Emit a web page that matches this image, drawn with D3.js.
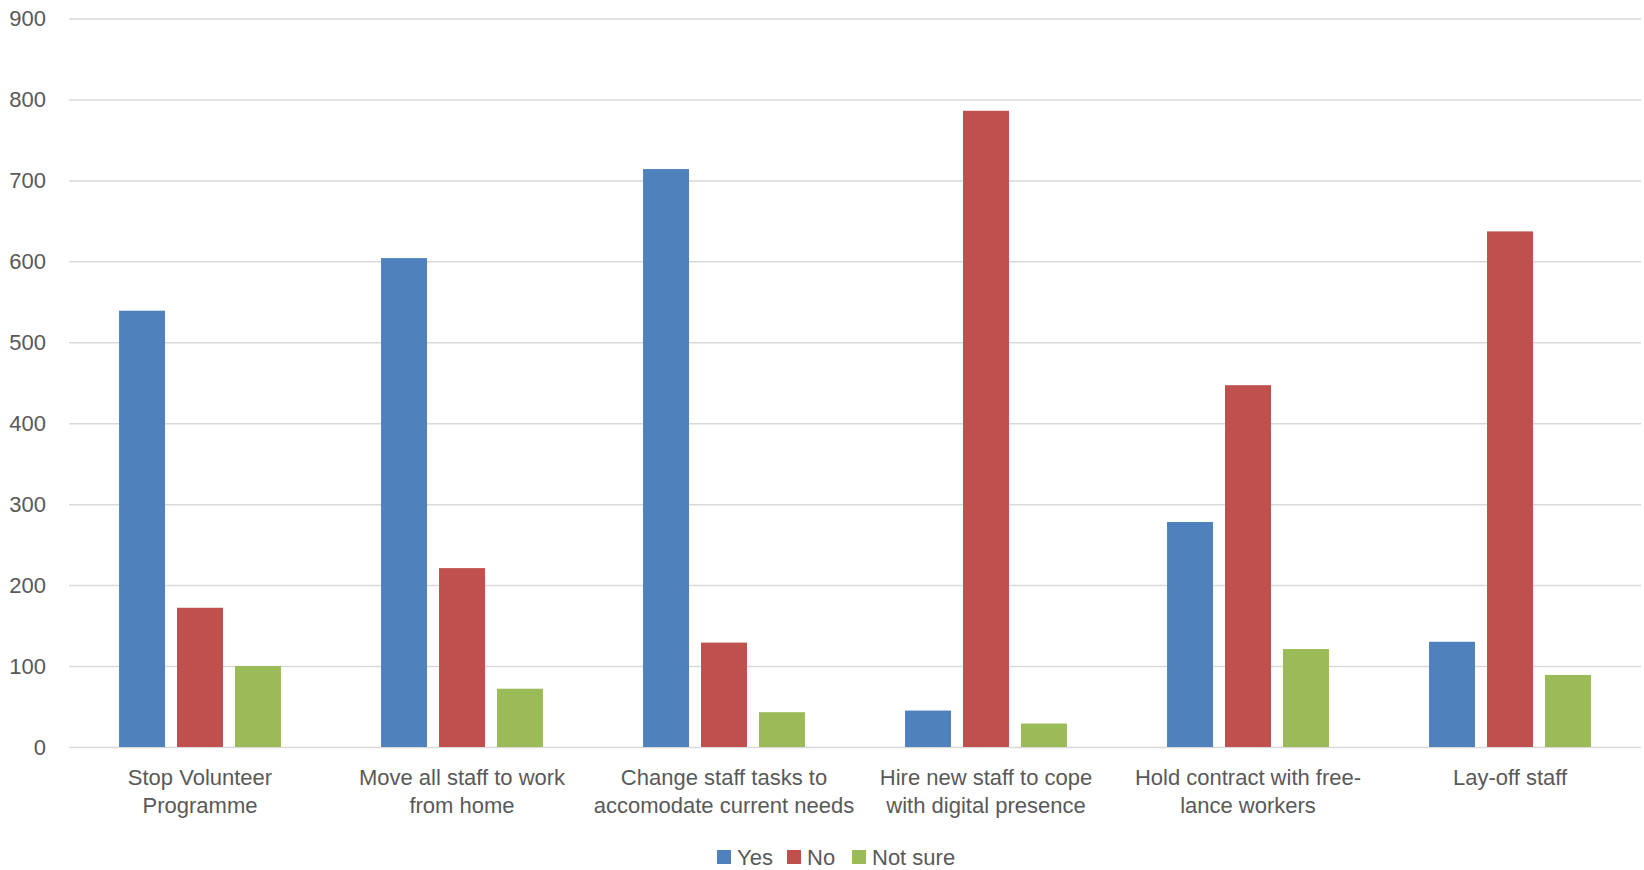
<!DOCTYPE html>
<html>
<head>
<meta charset="utf-8">
<script src="https://cdn.jsdelivr.net/npm/d3@7"></script>
<style>
  body { margin: 0; background: #fff; }
  text { font-family: "Liberation Sans", Arial, sans-serif; fill: #595959; }
</style>
</head>
<body>
<script>
"use strict";

// chart data
var categories = ["Stop Volunteer Programme", "Move all staff to work from home",
    "Change staff tasks to accomodate current needs", "Hire new staff to cope with digital presence",
    "Hold contract with free-lance workers", "Lay-off staff"];
var categoryLines = [
    ["Stop Volunteer", "Programme"],
    ["Move all staff to work", "from home"],
    ["Change staff tasks to", "accomodate current needs"],
    ["Hire new staff to cope", "with digital presence"],
    ["Hold contract with free-", "lance workers"],
    ["Lay-off staff"]
];
var seriesNames = ["Yes", "No", "Not sure"];
var yesValues = [539, 604, 714, 45, 278, 130];
var noValues = [172, 221, 129, 786, 447, 637];
var notSureValues = [100, 72, 43, 29, 121, 89];
var yTicks = [0, 100, 200, 300, 400, 500, 600, 700, 800, 900];
var colors = ["#4f81bd", "#c0504d", "#9bbb59"];

var width = 1644, height = 870;
var margin = {left: 69, right: 3, top: 18.5, bottom: 123};

var svg = d3.select("body").append("svg").attr("width", width).attr("height", height);

var x0 = d3.scaleBand().domain(categories).range([margin.left, width - margin.right]);
var groupW = x0.bandwidth() * 0.618;
var x1 = d3.scaleBand().domain(seriesNames)
    .range([(x0.bandwidth() - groupW) / 2, (x0.bandwidth() + groupW) / 2])
    .paddingInner(0.207);
var y = d3.scaleLinear().domain([0, 900]).range([height - margin.bottom, margin.top]);
var color = d3.scaleOrdinal().domain(seriesNames).range(colors);

// gridlines + tick labels
var yAxis = d3.axisLeft(y).tickValues(yTicks).tickSize(-(width - margin.left - margin.right)).tickPadding(23);
var gy = svg.append("g").attr("transform", "translate(" + margin.left + ",0)").call(yAxis);
gy.select(".domain").remove();
gy.selectAll(".tick line").attr("stroke", "#d9d9d9").attr("stroke-width", 1.5);
gy.selectAll(".tick text").attr("font-size", 22).style("fill", "#595959")
    .attr("font-family", "Liberation Sans, Arial, sans-serif");

// bars
var table = categories.map(function(c, i){
    return {cat: c, vals: [yesValues[i], noValues[i], notSureValues[i]]};
});
var groups = svg.append("g").selectAll("g").data(table).enter().append("g")
    .attr("transform", function(d){ return "translate(" + x0(d.cat) + ",0)"; });
groups.selectAll("rect").data(function(d){
    return d.vals.map(function(v, j){ return {s: seriesNames[j], v: v}; });
}).enter().append("rect")
    .attr("x", function(d){ return x1(d.s); })
    .attr("width", x1.bandwidth())
    .attr("y", function(d){ return y(d.v); })
    .attr("height", function(d){ return y(0) - y(d.v); })
    .attr("fill", function(d){ return color(d.s); });

// category labels
var labels = svg.append("g").selectAll("text").data(categories).enter().append("text")
    .attr("text-anchor", "middle").attr("font-size", 22)
    .attr("x", function(d){ return x0(d) + x0.bandwidth() / 2; })
    .attr("y", 785);
labels.each(function(d, i){
    var t = d3.select(this);
    categoryLines[i].forEach(function(line, k){
        t.append("tspan").attr("x", x0(d) + x0.bandwidth() / 2).attr("dy", k === 0 ? 0 : 28).text(line);
    });
});

// legend (nudged up a bit so descenders stay inside the frame)
var legendX = [717, 787, 852];
var legend = svg.append("g").selectAll("g").data(seriesNames).enter().append("g")
    .attr("transform", function(d, i){ return "translate(" + legendX[i] + ",850)"; });
legend.append("rect").attr("width", 14).attr("height", 14).attr("fill", function(d){ return color(d); });
legend.append("text").attr("x", 20).attr("y", 14.5).attr("font-size", 22).text(function(d){ return d; });
</script>
</body>
</html>
